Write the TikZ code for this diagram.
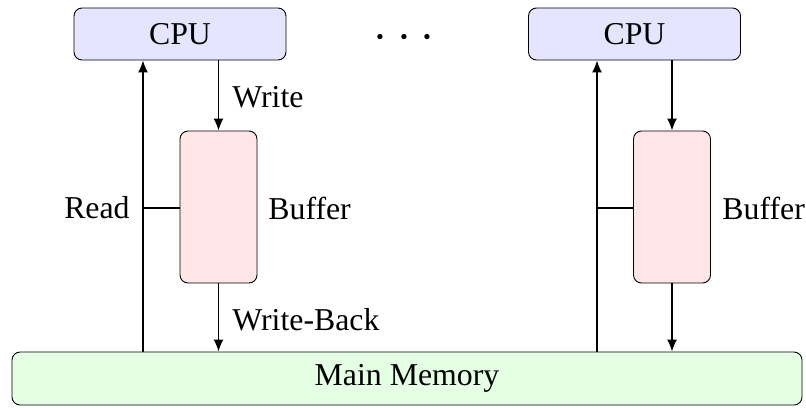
\documentclass[tikz,border=0pt]{standalone}
\usepackage{fontspec}
\setmainfont{Liberation Serif}
\usetikzlibrary{arrows.meta}
\begin{document}
\begin{tikzpicture}[x=0.5pt,y=-0.5pt,
  font=\fontsize{15.9}{18}\selectfont,
  box/.style={draw, line width=0.45pt, rounded corners=4pt, inner sep=0pt},
  cpubox/.style={box, fill=blue!10, minimum width=106pt, minimum height=26pt},
  bufbox/.style={box, fill=red!10, minimum width=38.5pt, minimum height=76pt},
  membox/.style={box, fill=green!10, minimum width=395pt, minimum height=26.5pt},
  arr/.style={line width=0.7pt, -{Latex[length=6pt,width=5pt]}},
  conn/.style={line width=0.7pt},
  lbl/.style={inner sep=0pt}]
\useasboundingbox (0,0) rectangle (806,407);
\node[cpubox] (cpu1) at (180,34) {CPU};
\node[cpubox] (cpu2) at (634.5,34) {CPU};
\node[lbl, anchor=base, font=\fontsize{30}{30}\selectfont] (dots) at (404,49) {\smash{$\cdotp\hspace{0.9pt}\cdotp\hspace{0.9pt}\cdotp$}};
\node[bufbox] (buf1) at (218.5,207) {};
\node[bufbox] (buf2) at (672,207) {};
\node[membox] (mem) at (407,378.5) {Main Memory};
\coordinate (r1) at (143,208);
\coordinate (r2) at (597,208);
% left column
\draw[arr] (mem.north -| r1) -- (cpu1.south -| r1);
\draw[conn] (r1) -- (r1 -| buf1.west);
\draw[arr] (cpu1.south -| buf1) -- (buf1.north);
\draw[arr] (buf1.south) -- (mem.north -| buf1);
\node[lbl, anchor=east] (read) at (130,208) {Read};
\node[lbl, anchor=west] (blab1) at (268,208) {Buffer};
\node[lbl, anchor=west] (write) at (232,97) {Write};
\node[lbl, anchor=west] (wb) at (232,320) {Write-Back};
% right column
\draw[arr] (mem.north -| r2) -- (cpu2.south -| r2);
\draw[conn] (r2) -- (r2 -| buf2.west);
\draw[arr] (cpu2.south -| buf2) -- (buf2.north);
\draw[arr] (buf2.south) -- (mem.north -| buf2);
\node[lbl, anchor=west] (blab2) at (722,208) {Buffer};
\end{tikzpicture}
\end{document}
